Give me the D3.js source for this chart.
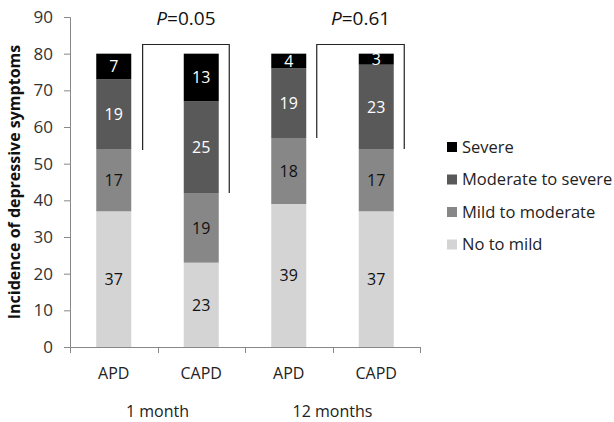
<!DOCTYPE html>
<html><head><meta charset="utf-8">
<script src="https://cdn.jsdelivr.net/npm/d3@7"></script>
<style>body{margin:0;background:#fff}svg{display:block}text{font-family:"Open Sans","Noto Sans",sans-serif}</style>
</head><body><svg id="c" width="614" height="422"></svg>
<script>
const bars = ["APD","CAPD","APD","CAPD"];
const groups = ["1 month","12 months"];
const series = ["No to mild","Mild to moderate","Moderate to severe","Severe"];
const noToMild = [37,23,39,37];
const mildToModerate = [17,19,18,17];
const moderateToSevere = [19,25,19,23];
const severe = [7,13,4,3];
const pLabels = ["0.05","0.61"];
const yTicks = [0,10,20,30,40,50,60,70,80,90];
const colors = ["#d4d4d4","#878787","#595959","#000000"];
const textColors = ["#111","#111","#fff","#fff"];

const svg = d3.select("#c");
const x = d3.scaleBand().domain(d3.range(bars.length)).range([70,420]);
const y = d3.scaleLinear().domain([0,90]).range([347,17]);
const bw = x.bandwidth()*0.4;
const vals = [noToMild,mildToModerate,moderateToSevere,severe];

// axes
const ya = svg.append("g").attr("transform","translate(70,0)")
  .call(d3.axisLeft(y).tickValues(yTicks).tickSize(6).tickPadding(11));
ya.selectAll("text").attr("font-size",17).attr("fill","#333");
ya.select(".domain").attr("stroke","#888").attr("d","M-6,17.5H0.5V347.5");
ya.selectAll("line").attr("stroke","#888");

// stacked bars
bars.forEach((b,i)=>{
  let base = 0;
  vals.forEach((arr,s)=>{
    const v = arr[i];
    const cx = x(i)+x.bandwidth()/2;
    svg.append("rect").attr("x",cx-bw/2).attr("width",bw)
      .attr("y",y(base+v)).attr("height",y(base)-y(base+v)).attr("fill",colors[s]);
    svg.append("text").attr("x",cx).attr("y",y(base+v/2)).attr("dy","0.36em")
      .attr("text-anchor","middle").attr("font-size",16).attr("fill",textColors[s]).text(v);
    base += v;
  });
});

// x axis
const xa = svg.append("g").attr("transform","translate(0,347)");
xa.append("line").attr("x1",70).attr("x2",420).attr("y1",0.5).attr("y2",0.5).attr("stroke","#888");
d3.range(bars.length+1).forEach(i=>{
  const xx = i<bars.length ? x(i) : 420;
  xa.append("line").attr("x1",Math.round(xx)+0.5).attr("x2",Math.round(xx)+0.5).attr("y1",0).attr("y2",6).attr("stroke","#888");
});
bars.forEach((b,i)=>{
  svg.append("text").attr("x",x(i)+x.bandwidth()/2).attr("y",379).attr("text-anchor","middle")
    .attr("font-size",16).attr("fill","#222").text(b);
});
groups.forEach((g,k)=>{
  const cx = (x(2*k)+x(2*k+1)+x.bandwidth())/2;
  svg.append("text").attr("x",cx).attr("y",417).attr("text-anchor","middle")
    .attr("font-size",16).attr("fill","#222").text(g);
});

// brackets
const bx = [[x(0)+x.bandwidth()*0.83, x(1)+x.bandwidth()*0.82],[x(2)+x.bandwidth()*0.82, x(3)+x.bandwidth()*0.82]];
const bEnds = [[53.7,42],[57,54]];
bx.forEach((p,k)=>{
  const top = y(82.5);
  svg.append("path").attr("fill","none").attr("stroke","#222").attr("stroke-width",1.2)
    .attr("d",`M${p[0]},${y(bEnds[k][0])}V${top}H${p[1]}V${y(bEnds[k][1])}`);
  const t = svg.append("text").attr("x",(p[0]+p[1])/2).attr("y",25).attr("text-anchor","middle")
    .attr("font-size",19).attr("fill","#111");
  t.append("tspan").attr("font-style","italic").text("P");
  t.append("tspan").text("="+pLabels[k]);
});

// y label
svg.append("text").attr("transform","translate(20,182) rotate(-90)").attr("text-anchor","middle")
  .attr("font-size",16).attr("font-weight","bold").attr("fill","#111")
  .text("Incidence of depressive symptoms");

// legend
series.slice().reverse().forEach((s,j)=>{
  const si = series.length-1-j;
  const yy = 147 + j*32.5;
  svg.append("rect").attr("x",447).attr("y",yy-5).attr("width",10).attr("height",10).attr("fill",colors[si]);
  svg.append("text").attr("x",462).attr("y",yy).attr("dy","0.36em").attr("font-size",16.5).attr("fill","#222").text(s);
});
</script></body></html>
